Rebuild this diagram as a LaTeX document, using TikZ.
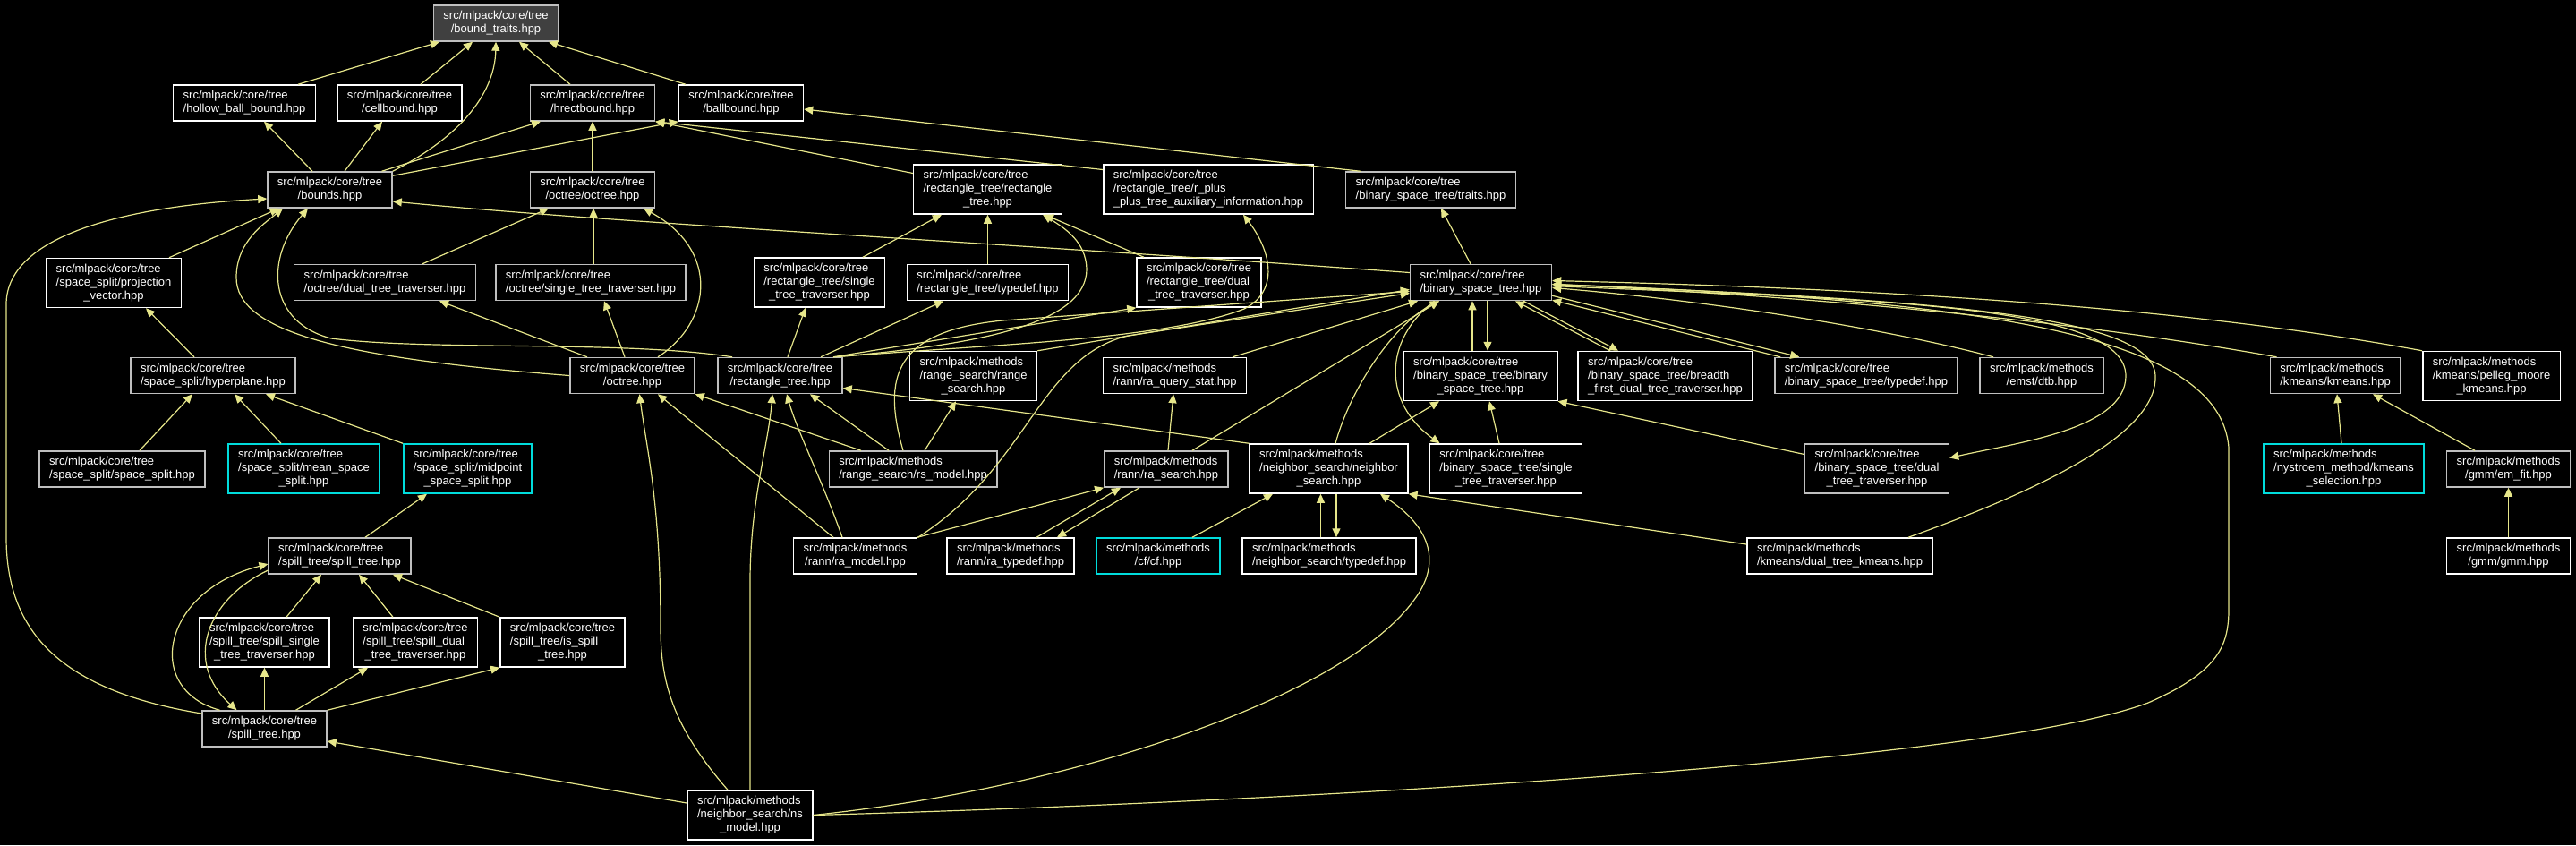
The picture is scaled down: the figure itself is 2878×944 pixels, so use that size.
\documentclass[tikz,border=0pt]{standalone}
\usepackage{fontspec}
\setmainfont{Liberation Sans}
\usetikzlibrary{arrows.meta}
\definecolor{dxgray}{HTML}{BFBFBF}
\definecolor{dxfill}{HTML}{404040}
\definecolor{dxcyan}{HTML}{00DCDC}
\definecolor{dxedge}{HTML}{E6E68A}
\newcommand{\flab}[2]{\begin{tabular}{@{}l@{}}#1\\\multicolumn{1}{@{}c@{}}{#2}\end{tabular}}
\tikzset{
	fnode/.style={draw=dxgray, fill=black, text=white, line width=0.75pt,
		inner xsep=5.5pt, inner ysep=0pt, minimum height=20pt,
		font=\fontsize{6.5}{7.5}\selectfont},
	wnode/.style={fnode, draw=white},
	cnode/.style={fnode, draw=dxcyan},
	tall/.style={minimum height=27.5pt},
	incl/.style={draw=dxedge, line width=0.6pt, -{Triangle[length=5pt, width=4.5pt]}}
}

\begin{document}
\begin{tikzpicture}[x=0.5pt, y=-0.5pt]
	\useasboundingbox (0,0) rectangle (2878,944);
	\fill[black] (0,0) rectangle (2878,944);

	% row 1
	\node[fnode, fill=dxfill] (btraits) at (554,26) {\flab{src/mlpack/core/tree}{/bound\_traits.hpp}};
	% row 2
	\node[wnode] (hollow) at (273,115) {\flab{src/mlpack/core/tree}{/hollow\_ball\_bound.hpp}};
	\node[wnode] (cellb) at (446.5,115) {\flab{src/mlpack/core/tree}{/cellbound.hpp}};
	\node[fnode] (hrect) at (662,115) {\flab{src/mlpack/core/tree}{/hrectbound.hpp}};
	\node[wnode] (ballb) at (828,115) {\flab{src/mlpack/core/tree}{/ballbound.hpp}};
	% row 3
	\node[fnode] (bounds) at (368.5,212) {\flab{src/mlpack/core/tree}{/bounds.hpp}};
	\node[fnode] (octoct) at (662,212) {\flab{src/mlpack/core/tree}{/octree/octree.hpp}};
	\node[wnode, tall] (rectrect) at (1103.5,211.5) {\flab{src/mlpack/core/tree\\/rectangle\_tree/rectangle}{\_tree.hpp}};
	\node[wnode, tall] (rplus) at (1350,211.5) {\flab{src/mlpack/core/tree\\/rectangle\_tree/r\_plus}{\_plus\_tree\_auxiliary\_information.hpp}};
	\node[fnode] (bsttraits) at (1598.5,212) {\flab{src/mlpack/core/tree}{/binary\_space\_tree/traits.hpp}};
	% row 4
	\node[wnode, tall] (projvec) at (127,316) {\flab{src/mlpack/core/tree\\/space\_split/projection}{\_vector.hpp}};
	\node[fnode] (octdual) at (430,315.5) {\flab{src/mlpack/core/tree}{/octree/dual\_tree\_traverser.hpp}};
	\node[fnode] (octsingle) at (660,315.5) {\flab{src/mlpack/core/tree}{/octree/single\_tree\_traverser.hpp}};
	\node[wnode, tall] (rectsingle) at (915.5,315.5) {\flab{src/mlpack/core/tree\\/rectangle\_tree/single}{\_tree\_traverser.hpp}};
	\node[wnode] (recttypedef) at (1103.5,315.5) {\flab{src/mlpack/core/tree}{/rectangle\_tree/typedef.hpp}};
	\node[wnode, tall] (rectdual) at (1339.5,315.5) {\flab{src/mlpack/core/tree\\/rectangle\_tree/dual}{\_tree\_traverser.hpp}};
	\node[fnode] (bst) at (1654.5,315.5) {\flab{src/mlpack/core/tree}{/binary\_space\_tree.hpp}};
	% row 5
	\node[fnode] (hyperpl) at (238,419.5) {\flab{src/mlpack/core/tree}{/space\_split/hyperplane.hpp}};
	\node[fnode] (octreeh) at (706.5,419.5) {\flab{src/mlpack/core/tree}{/octree.hpp}};
	\node[fnode] (recth) at (871.5,419.5) {\flab{src/mlpack/core/tree}{/rectangle\_tree.hpp}};
	\node[wnode, tall] (rsearch) at (1087.5,420) {\flab{src/mlpack/methods\\/range\_search/range}{\_search.hpp}};
	\node[wnode] (raquery) at (1312.5,419.5) {\flab{src/mlpack/methods}{/rann/ra\_query\_stat.hpp}};
	\node[wnode, tall] (bstbin) at (1654,420) {\flab{src/mlpack/core/tree\\/binary\_space\_tree/binary}{\_space\_tree.hpp}};
	\node[wnode, tall] (bstbreadth) at (1860.5,420) {\flab{src/mlpack/core/tree\\/binary\_space\_tree/breadth}{\_first\_dual\_tree\_traverser.hpp}};
	\node[fnode] (bsttypedef) at (2085,419.5) {\flab{src/mlpack/core/tree}{/binary\_space\_tree/typedef.hpp}};
	\node[fnode] (dtb) at (2281,419.5) {\flab{src/mlpack/methods}{/emst/dtb.hpp}};
	\node[fnode] (kmeans) at (2609,419.5) {\flab{src/mlpack/methods}{/kmeans/kmeans.hpp}};
	\node[wnode, tall] (pelleg) at (2783.5,420) {\flab{src/mlpack/methods\\/kmeans/pelleg\_moore}{\_kmeans.hpp}};
	% row 6
	\node[fnode] (ssplit) at (136.5,524) {\flab{src/mlpack/core/tree}{/space\_split/space\_split.hpp}};
	\node[cnode, tall] (meansplit) at (339.5,523.5) {\flab{src/mlpack/core/tree\\/space\_split/mean\_space}{\_split.hpp}};
	\node[cnode, tall] (midsplit) at (522.5,523.5) {\flab{src/mlpack/core/tree\\/space\_split/midpoint}{\_space\_split.hpp}};
	\node[fnode] (rsmodel) at (1020,524) {\flab{src/mlpack/methods}{/range\_search/rs\_model.hpp}};
	\node[fnode] (rasearch) at (1303,524) {\flab{src/mlpack/methods}{/rann/ra\_search.hpp}};
	\node[wnode, tall] (nsearch) at (1484.5,523.5) {\flab{src/mlpack/methods\\/neighbor\_search/neighbor}{\_search.hpp}};
	\node[wnode, tall] (bstsingle) at (1682.5,523.5) {\flab{src/mlpack/core/tree\\/binary\_space\_tree/single}{\_tree\_traverser.hpp}};
	\node[fnode, tall] (bstdual) at (2097,523.5) {\flab{src/mlpack/core/tree\\/binary\_space\_tree/dual}{\_tree\_traverser.hpp}};
	\node[cnode, tall] (nystroem) at (2618.5,523.5) {\flab{src/mlpack/methods\\/nystroem\_method/kmeans}{\_selection.hpp}};
	\node[fnode] (emfit) at (2802.5,524) {\flab{src/mlpack/methods}{/gmm/em\_fit.hpp}};
	% row 7
	\node[fnode] (spilltr) at (379.5,621) {\flab{src/mlpack/core/tree}{/spill\_tree/spill\_tree.hpp}};
	\node[wnode] (ramodel) at (955.5,621) {\flab{src/mlpack/methods}{/rann/ra\_model.hpp}};
	\node[wnode] (ratypedef) at (1129,621) {\flab{src/mlpack/methods}{/rann/ra\_typedef.hpp}};
	\node[cnode] (cfh) at (1294,621) {\flab{src/mlpack/methods}{/cf/cf.hpp}};
	\node[wnode] (nstypedef) at (1485,621) {\flab{src/mlpack/methods}{/neighbor\_search/typedef.hpp}};
	\node[wnode] (dtkmeans) at (2055.5,621) {\flab{src/mlpack/methods}{/kmeans/dual\_tree\_kmeans.hpp}};
	\node[wnode] (gmm) at (2802.5,621) {\flab{src/mlpack/methods}{/gmm/gmm.hpp}};
	% row 8
	\node[wnode, tall] (spillsingle) at (295.5,717.5) {\flab{src/mlpack/core/tree\\/spill\_tree/spill\_single}{\_tree\_traverser.hpp}};
	\node[wnode, tall] (spilldual) at (464,717.5) {\flab{src/mlpack/core/tree\\/spill\_tree/spill\_dual}{\_tree\_traverser.hpp}};
	\node[wnode, tall] (isspill) at (628.5,717.5) {\flab{src/mlpack/core/tree\\/spill\_tree/is\_spill}{\_tree.hpp}};
	\node[fnode] (spillh) at (295.5,814) {\flab{src/mlpack/core/tree}{/spill\_tree.hpp}};
	\node[wnode, tall] (nsmodel) at (838,910.5) {\flab{src/mlpack/methods\\/neighbor\_search/ns}{\_model.hpp}};

	% bounds
	\draw[incl] ([shift={(60,0)}]hollow.north) -- ([shift={(-63,0)}]btraits.south);
	\draw[incl] ([shift={(23.5,0)}]cellb.north) -- ([shift={(-26,0)}]btraits.south);
	\draw[incl] (bounds.north east) .. controls (520,150) and (553,100) .. (btraits.south);
	\draw[incl] ([shift={(-25,0)}]hrect.north) -- ([shift={(26,0)}]btraits.south);
	\draw[incl] ([shift={(-62,0)}]ballb.north) -- ([shift={(59,0)}]btraits.south);
	\draw[incl] ([shift={(-19.5,0)}]bounds.north) -- ([shift={(22,0)}]hollow.south);
	\draw[incl] ([shift={(16.5,0)}]bounds.north) -- ([shift={(-19.5,0)}]cellb.south);
	\draw[incl] ([shift={(58,0)}]bounds.north) -- ([shift={(-58,0)}]hrect.south);
	\draw[incl] ([shift={(0,5)}]bounds.north east) -- (ballb.south west);
	\draw[incl] (octoct.north) -- (hrect.south);
	\draw[incl] ([shift={(0,-18)}]rectrect.west) -- (hrect.south east);
	\draw[incl] ([shift={(0,-22)}]rplus.west) -- (hrect.south east);
	\draw[incl] ([shift={(17,0)}]bsttraits.north west) -- ([shift={(0,7)}]ballb.east);
	\draw[incl] ([shift={(62,0)}]projvec.north) -- ([shift={(-57,0)}]bounds.south);
	\draw[incl] (octreeh.west) .. controls (380,400) and (264,370) .. (264,310)
		.. controls (264,270) and (295,250) .. ([shift={(-52.5,0)}]bounds.south);
	\draw[incl] ([shift={(-53.5,0)}]recth.north) .. controls (700,380) and (480,392) .. (370,378)
		.. controls (300,360) and (295,290) .. ([shift={(-24.5,0)}]bounds.south);
	\draw[incl] ([shift={(0,-17)}]spillh.west) .. controls (60,770) and (7,700) .. (7,600) -- (7,340)
		.. controls (7,260) and (150,230) .. ([shift={(0,10)}]bounds.west);
	\draw[incl] ([shift={(0,-11)}]bst.west) .. controls (1100,270) and (700,250) .. ([shift={(0,13)}]bounds.east);

	% octree
	\draw[incl] ([shift={(42,0)}]octdual.north) -- ([shift={(-49,0)}]octoct.south);
	\draw[incl] ([shift={(3,0)}]octsingle.north) -- ([shift={(1,0)}]octoct.south);
	\draw[incl] ([shift={(28.5,0)}]octreeh.north) .. controls (795,360) and (805,280) .. ([shift={(57,0)}]octoct.south);
	\draw[incl] ([shift={(-50.5,0)}]octreeh.north) -- ([shift={(61,0)}]octdual.south);
	\draw[incl] ([shift={(-8.5,0)}]octreeh.north) -- ([shift={(15,0)}]octsingle.south);

	% rectangle tree
	\draw[incl] ([shift={(48.5,0)}]rectsingle.north) -- ([shift={(-51.5,0)}]rectrect.south);
	\draw[incl] (recttypedef.north) -- (rectrect.south);
	\draw[incl] ([shift={(-61.5,0)}]rectdual.north) -- ([shift={(63.5,0)}]rectrect.south);
	\draw[incl] ([shift={(59.5,0)}]recth.north) .. controls (1100,385) and (1215,360) .. (1214,300)
		.. controls (1213,270) and (1190,255) .. ([shift={(61.5,0)}]rectrect.south);
	\draw[incl] ([shift={(8.5,0)}]recth.north) -- ([shift={(-15.5,0)}]rectsingle.south);
	\draw[incl] ([shift={(45.5,0)}]recth.north) -- ([shift={(-49.5,0)}]recttypedef.south);
	\draw[incl] ([shift={(59.5,0)}]recth.north) -- (rectdual.south west);
	\draw[incl] ([shift={(62,0)}]recth.north) .. controls (1100,385) and (1300,380) .. (1390,345)
		.. controls (1430,325) and (1420,280) .. ([shift={(39,0)}]rplus.south);

	% space split
	\draw[incl] ([shift={(-11.5,0)}]bst.north) -- ([shift={(11.5,0)}]bsttraits.south);
	\draw[incl] ([shift={(-21,0)}]hyperpl.north) -- ([shift={(36,0)}]projvec.south);
	\draw[incl] ([shift={(19.5,0)}]ssplit.north) -- ([shift={(-23,0)}]hyperpl.south);
	\draw[incl] ([shift={(-25.5,0)}]meansplit.north) -- ([shift={(24,0)}]hyperpl.south);
	\draw[incl] (midsplit.north west) -- ([shift={(59,0)}]hyperpl.south);
	\draw[incl] ([shift={(28.5,0)}]spilltr.north) -- ([shift={(-45.5,0)}]midsplit.south);

	% spill tree
	\draw[incl] ([shift={(24.5,0)}]spillsingle.north) -- ([shift={(-20.5,0)}]spilltr.south);
	\draw[incl] ([shift={(-25,0)}]spilldual.north) -- ([shift={(21.5,0)}]spilltr.south);
	\draw[incl] (isspill.north west) -- ([shift={(59.5,0)}]spilltr.south);
	\draw[incl] ([shift={(-50,0)}]spillh.north) .. controls (160,770) and (180,660) .. ([shift={(0,9)}]spilltr.west);
	\draw[incl] ([shift={(0,16)}]spilltr.west) .. controls (230,670) and (205,740) .. ([shift={(-31,0)}]spillh.north);
	\draw[incl] (spillh.north) -- (spillsingle.south);
	\draw[incl] ([shift={(35,0)}]spillh.north) -- ([shift={(-53,0)}]spilldual.south);
	\draw[incl] (spillh.north east) -- (isspill.south west);

	% neighbor search
	\draw[incl] ([shift={(0,-13.5)}]nsmodel.west) -- ([shift={(0,14)}]spillh.east);
	\draw[incl] ([shift={(-25,0)}]nsmodel.north) .. controls (750,810) and (738,760) .. (738,700)
		.. controls (738,560) and (722,500) .. ([shift={(8,0)}]octreeh.south);
	\draw[incl] (nsmodel.north) -- (838,650) .. controls (838,560) and (858,500) .. ([shift={(-8.5,0)}]recth.south);
	\draw[incl] (nsmodel.east) .. controls (1300,900) and (2200,860) .. (2400,785)
		.. controls (2480,750) and (2490,720) .. (2490,680) -- (2490,500)
		.. controls (2480,370) and (2200,335) .. ([shift={(0,2)}]bst.east);
	\draw[incl] (nsmodel.east) .. controls (1200,880) and (1500,780) .. (1580,670)
		.. controls (1610,630) and (1600,590) .. ([shift={(57.5,0)}]nsearch.south);
	\draw[incl] ([shift={(-9.5,0)}]nstypedef.north) -- ([shift={(-9,0)}]nsearch.south);
	\draw[incl] ([shift={(8.5,0)}]nsearch.south) -- ([shift={(8,0)}]nstypedef.north);
	\draw[incl] ([shift={(38,0)}]cfh.north) -- ([shift={(-62.5,0)}]nsearch.south);
	\draw[incl] ([shift={(0,-13)}]dtkmeans.west) -- (nsearch.south east);
	\draw[incl] (nsearch.north west) -- ([shift={(0,14)}]recth.east);
	\draw[incl] ([shift={(45.5,0)}]nsearch.north) -- ([shift={(-46,0)}]bstbin.south);
	\draw[incl] ([shift={(7.5,0)}]nsearch.north) .. controls (1510,430) and (1560,360) .. ([shift={(-46.5,0)}]bst.south);

	% binary space tree
	\draw[incl] ([shift={(-52,0)}]bst.south) .. controls (1545,380) and (1545,450) .. ([shift={(-74,0)}]bstsingle.north);
	\draw[incl] ([shift={(-7.5,0)}]bstsingle.north) -- ([shift={(10,0)}]bstbin.south);
	\draw[incl] ([shift={(-9,0)}]bstbin.north) -- ([shift={(-9.5,0)}]bst.south);
	\draw[incl] ([shift={(7.5,0)}]bst.south) -- ([shift={(8,0)}]bstbin.north);
	\draw[incl] ([shift={(-61.5,0)}]bstbreadth.north) -- ([shift={(38.5,0)}]bst.south);
	\draw[incl] ([shift={(47.5,0)}]bst.south) -- ([shift={(-52.5,0)}]bstbreadth.north);
	\draw[incl] ([shift={(7,0)}]bsttypedef.north west) -- ([shift={(0,-1)}]bst.south east);
	\draw[incl] ([shift={(0,-6)}]bst.south east) -- ([shift={(28,0)}]bsttypedef.north west);
	\draw[incl] ([shift={(0,-16)}]bstdual.west) -- (bstbin.south east);
	\draw[incl] ([shift={(0,4)}]bst.east) .. controls (2100,335) and (2375,340) .. (2375,420)
		.. controls (2375,480) and (2250,495) .. ([shift={(0,-12)}]bstdual.east);
	\draw[incl] ([shift={(76.5,0)}]dtkmeans.north) .. controls (2300,540) and (2410,480) .. (2408,420)
		.. controls (2406,350) and (2150,335) .. ([shift={(0,2)}]bst.east);
	\draw[incl] ([shift={(-54,0)}]dtb.north) .. controls (2100,365) and (1900,335) .. ([shift={(0,6)}]bst.east);
	\draw[incl] ([shift={(8,0)}]kmeans.north west) .. controls (2300,355) and (2000,330) .. ([shift={(0,2)}]bst.east);
	\draw[incl] (pelleg.north west) .. controls (2400,335) and (2000,320) .. ([shift={(0,-2)}]bst.east);

	% kmeans, gmm
	\draw[incl] ([shift={(-2.5,0)}]nystroem.north) -- ([shift={(2,0)}]kmeans.south);
	\draw[incl] ([shift={(-37.5,0)}]emfit.north) -- ([shift={(42,0)}]kmeans.south);
	\draw[incl] (gmm.north) -- (emfit.south);

	% rann, range search
	\draw[incl] (ramodel.north east) -- (rasearch.south west);
	\draw[incl] ([shift={(29,0)}]ratypedef.north) -- ([shift={(-51,0)}]rasearch.south);
	\draw[incl] ([shift={(-30,0)}]rasearch.south) -- ([shift={(52,0)}]ratypedef.north);
	\draw[incl] ([shift={(2,0)}]rasearch.north) -- ([shift={(-1.5,0)}]raquery.south);
	\draw[incl] ([shift={(29,0)}]rasearch.north) -- ([shift={(-46.5,0)}]bst.south);
	\draw[incl] ([shift={(64.5,0)}]raquery.north) -- ([shift={(-70.5,0)}]bst.south);
	\draw[incl] ([shift={(-14.5,0)}]ramodel.north) .. controls (920,540) and (890,480) .. ([shift={(7.5,0)}]recth.south);
	\draw[incl] ([shift={(-24.5,0)}]ramodel.north) -- ([shift={(28.5,0)}]octreeh.south);
	\draw[incl] ([shift={(70,0)}]ramodel.north) .. controls (1150,520) and (1160,400) .. (1260,375) -- ([shift={(0,12)}]bst.west);
	\draw[incl] ([shift={(-11,0)}]rsmodel.north) .. controls (985,420) and (1000,370) .. (1120,358) -- ([shift={(0,10)}]bst.west);
	\draw[incl] (rsearch.north east) -- ([shift={(0,8)}]bst.west);
	\draw[incl] ([shift={(13,0)}]rsmodel.north) -- ([shift={(-19.5,0)}]rsearch.south);
	\draw[incl] ([shift={(-27,0)}]rsmodel.north) -- ([shift={(33.5,0)}]recth.south);
	\draw[incl] ([shift={(-58,0)}]rsmodel.north) -- (octreeh.south east);
\end{tikzpicture}
\end{document}
